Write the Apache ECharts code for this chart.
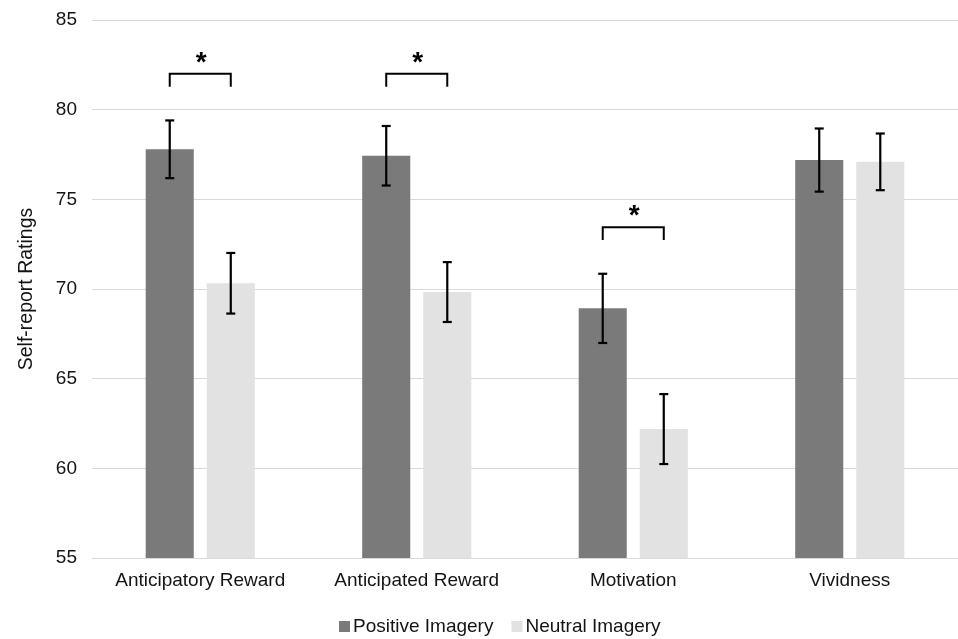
<!DOCTYPE html>
<html><head><meta charset="utf-8">
<script src="https://cdn.jsdelivr.net/npm/echarts@6/dist/echarts.min.js"></script>
<style>html,body{margin:0;padding:0;background:#fff}#c{width:958px;height:639px}</style>
</head><body><div id="c"></div>
<script>
const categories = ['Anticipatory Reward', 'Anticipated Reward', 'Motivation', 'Vividness'];
const positive = [77.79, 77.43, 68.92, 77.19];
const positiveErr = [1.61, 1.66, 1.93, 1.76];
const neutral = [70.32, 69.83, 62.19, 77.09];
const neutralErr = [1.69, 1.67, 1.95, 1.58];
const sigCats = [0, 1, 2];
const sigTop = [82.0, 82.0, 73.45];
const sigBottom = [81.28, 81.28, 72.73];
const yTicks = [55, 60, 65, 70, 75, 80, 85];

const FONT = 'Liberation Sans, Arial, sans-serif';
const TXT = '#141414';
const chart = echarts.init(document.getElementById('c'), null, {renderer: 'canvas'});
const BAR_PCT = 0.222, GAP_PCT = 0.27;
function offsets(api) {
  const band = api.size([1, 0])[0];
  const bw = band * BAR_PCT;
  return (bw + bw * GAP_PCT) / 2;
}
function errSeries(vals, errs, sign) {
  return {
    type: 'custom', z: 10,
    data: vals.map((v, i) => [i, v - errs[i], v + errs[i]]),
    renderItem: function (params, api) {
      const off = offsets(api) * sign;
      const lo = api.coord([api.value(0), api.value(1)]);
      const hi = api.coord([api.value(0), api.value(2)]);
      const x = lo[0] + off;
      const cap = 4.5;
      const st = {stroke: '#000', lineWidth: 2.2};
      return {type: 'group', children: [
        {type: 'line', shape: {x1: x, y1: hi[1], x2: x, y2: lo[1]}, style: st},
        {type: 'line', shape: {x1: x - cap, y1: hi[1], x2: x + cap, y2: hi[1]}, style: st},
        {type: 'line', shape: {x1: x - cap, y1: lo[1], x2: x + cap, y2: lo[1]}, style: st}
      ]};
    },
    silent: true, tooltip: {show: false}
  };
}
const sigData = sigCats.map((c, i) => [c, sigTop[i], sigBottom[i]]);

chart.setOption({
  backgroundColor: '#fff',
  animation: false,
  textStyle: {fontFamily: FONT},
  grid: {left: 92, right: 0, top: 20, bottom: 81},
  legend: {
    bottom: -2, left: 334,
    itemWidth: 11, itemHeight: 11, itemGap: 18,
    icon: 'rect',
    textStyle: {fontSize: 19, color: TXT, padding: [0, 0, 0, -2]},
    data: ['Positive Imagery', 'Neutral Imagery']
  },
  xAxis: {
    type: 'category', data: categories,
    axisTick: {show: false},
    axisLine: {lineStyle: {color: '#d9d9d9', width: 1}},
    axisLabel: {fontSize: 19, color: TXT, margin: 13, interval: 0}
  },
  yAxis: {
    type: 'value', min: 55, max: 85, interval: 5,
    name: 'Self-report Ratings', nameLocation: 'middle', nameGap: 55,
    nameTextStyle: {fontSize: 19.5, color: TXT},
    axisLabel: {fontSize: 19, color: TXT, margin: 15,
      formatter: v => yTicks.includes(v) ? String(v) : ''},
    axisLine: {show: false}, axisTick: {show: false},
    splitLine: {lineStyle: {color: '#d9d9d9', width: 1}}
  },
  series: [
    {name: 'Positive Imagery', type: 'bar', data: positive, barWidth: (BAR_PCT * 100) + '%', barGap: (GAP_PCT * 100) + '%',
     itemStyle: {color: '#7a7a7a'}},
    {name: 'Neutral Imagery', type: 'bar', data: neutral, barWidth: (BAR_PCT * 100) + '%',
     itemStyle: {color: '#e2e2e2'}},
    errSeries(positive, positiveErr, -1),
    errSeries(neutral, neutralErr, 1),
    {
      type: 'custom', z: 10, data: sigData, silent: true,
      renderItem: function (params, api) {
        const off = offsets(api);
        const top = api.coord([api.value(0), api.value(1)]);
        const bot = api.coord([api.value(0), api.value(2)]);
        const x1 = top[0] - off, x2 = top[0] + off, yt = top[1], yb = bot[1];
        const st = {stroke: '#000', lineWidth: 2, fill: null};
        return {type: 'group', children: [
          {type: 'polyline', shape: {points: [[x1, yb], [x1, yt], [x2, yt], [x2, yb]]}, style: st},
          {type: 'text', style: {text: '*', x: top[0] + 1, y: yt + 3, textAlign: 'center', textVerticalAlign: 'bottom',
            fontSize: 28, fontWeight: 'bold', fill: '#000', fontFamily: FONT}}
        ]};
      }
    }
  ]
});
</script></body></html>
